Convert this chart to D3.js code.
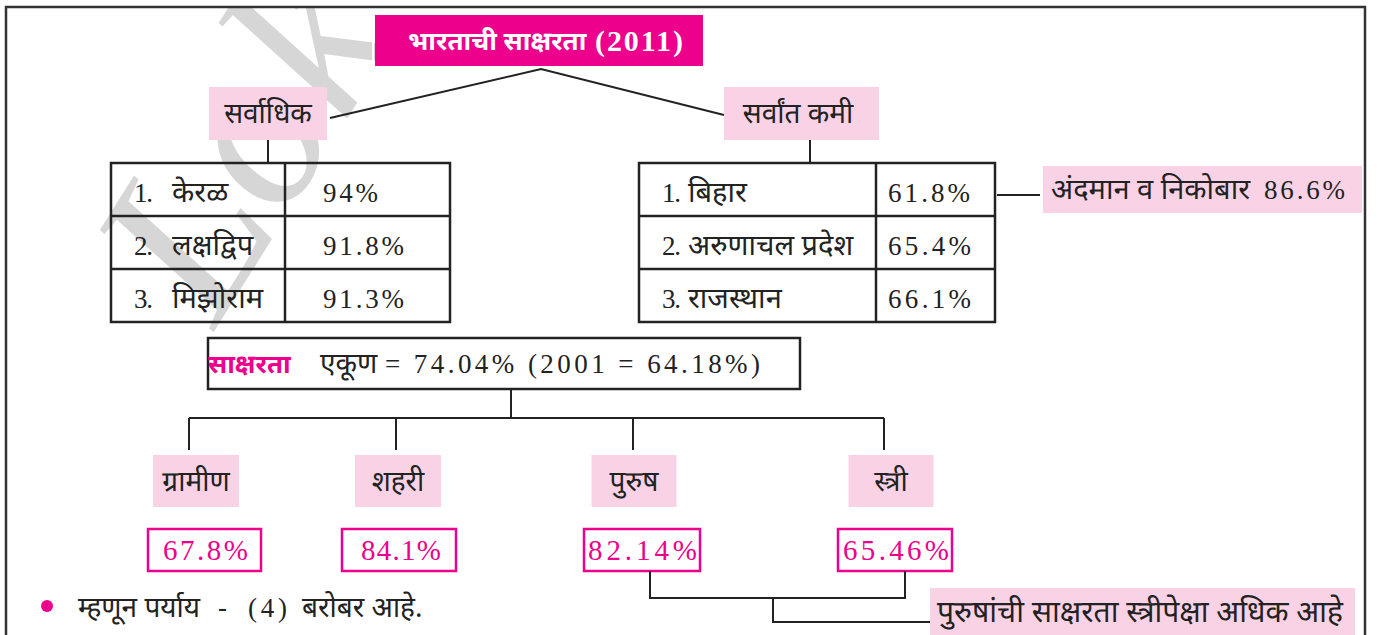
<!DOCTYPE html>
<html>
<head>
<meta charset="utf-8">
<script src="https://cdn.jsdelivr.net/npm/d3@7"></script>
<style>
  body { margin: 0; background: #fff; }
  svg text { font-family: "Liberation Serif", "DejaVu Serif", serif; }
</style>
</head>
<body>
<svg width="1377" height="635"></svg>
<script>
// --- data ---
const titleWord = "भारताची साक्षरता";
const titleYear = "(2011)";
const highLabel = "सर्वाधिक";
const lowLabel = "सर्वांत कमी";
const highStates = ["केरळ", "लक्षद्विप", "मिझोराम"];
const highValues = ["94%", "91.8%", "91.3%"];
const lowStates = ["बिहार", "अरुणाचल प्रदेश", "राजस्थान"];
const lowValues = ["61.8%", "65.4%", "66.1%"];
const unionName = "अंदमान व निकोबार";
const unionValue = "86.6%";
const totalLabel = "साक्षरता";
const totalWord = "एकूण";
const totalNums = "= 74.04% (2001 = 64.18%)";
const groups = ["ग्रामीण", "शहरी", "पुरुष", "स्त्री"];
const groupValues = ["67.8%", "84.1%", "82.14%", "65.46%"];
const conclusion = "पुरुषांची साक्षरता स्त्रीपेक्षा अधिक आहे";
const bulletParts = ["म्हणून पर्याय", "-", "(4)", "बरोबर आहे."];

const MAGENTA = "#ec008c", PINK = "#f9d3e5", INK = "#222";
const DEVA = "'Noto Sans Devanagari', 'Lohit Devanagari', 'Noto Sans', sans-serif";

const svg = d3.select("svg");

// watermark (faint, behind everything)
svg.append("defs").append("clipPath").attr("id", "frame")
  .append("rect").attr("x", 7).attr("y", 8).attr("width", 1357).attr("height", 630);
svg.append("g").attr("clip-path", "url(#frame)")
  .append("text")
  .attr("transform", "translate(215,330) rotate(-58)")
  .attr("font-size", 230)
  .attr("font-style", "italic")
  .attr("fill", "#d6d6d6")
  .text("Lok");

// outer frame (open at bottom)
svg.append("path")
  .attr("d", "M6,640 V7 H1365 V640")
  .attr("fill", "none").attr("stroke", "#333").attr("stroke-width", 2.5);

function line(pts, w = 2) {
  svg.append("path").attr("d", d3.line()(pts))
    .attr("fill", "none").attr("stroke", INK).attr("stroke-width", w);
}
function box(x, y, w, h, fill, stroke) {
  svg.append("rect").attr("x", x).attr("y", y).attr("width", w).attr("height", h)
    .attr("fill", fill).attr("stroke", stroke || "none").attr("stroke-width", stroke ? 2.5 : 0);
}
// deva text
function dtext(x, y, t, opt = {}) {
  return svg.append("text").attr("x", x).attr("y", y)
    .attr("text-anchor", opt.anchor || "start")
    .style("font-family", DEVA)
    .attr("font-size", opt.size || 27)
    .attr("font-weight", opt.weight || "normal")
    .attr("fill", opt.fill || INK)
    .text(t);
}
// serif numbers, stretched to the measured width
function ntext(x, y, t, len, opt = {}) {
  const el = svg.append("text").attr("x", x).attr("y", y)
    .attr("font-size", opt.size || 27)
    .attr("font-weight", opt.weight || "normal")
    .attr("fill", opt.fill || INK)
    .text(t);
  if (len) el.attr("textLength", len).attr("lengthAdjust", "spacing");
  return el;
}

// title
box(375, 15, 328, 51, MAGENTA);
svg.append("rect").attr("x", 373).attr("y", 13).attr("width", 332).attr("height", 55)
  .attr("fill", "none").attr("stroke", "#fff").attr("stroke-width", 2);
dtext(408, 50, titleWord, { size: 26, weight: "bold", fill: "#fff" });
ntext(595, 51, titleYear, 88, { size: 30, weight: "bold", fill: "#fff" });
line([[330, 118], [541, 69], [724, 115]]);

// header boxes
box(209, 87, 118, 53, PINK);
dtext(268, 123, highLabel, { anchor: "middle", size: 28 });
box(724, 87, 155, 53, PINK);
dtext(798, 123, lowLabel, { anchor: "middle", size: 28 });
line([[268, 140], [268, 163]]);
line([[810, 140], [810, 163]]);

// tables
const rowY = d3.scaleBand().domain(d3.range(3)).range([163, 322]);
function table(x0, xMid, x1, names, vals, nameX, valX, valLens) {
  svg.append("rect").attr("x", x0).attr("y", 163).attr("width", x1 - x0).attr("height", 159)
    .attr("fill", "none").attr("stroke", INK).attr("stroke-width", 2.5);
  line([[xMid, 163], [xMid, 322]], 2.5);
  d3.range(1, 3).forEach(i => line([[x0, rowY(i)], [x1, rowY(i)]], 2.5));
  names.forEach((n, i) => {
    const y = rowY(i) + rowY.bandwidth() / 2 + 12;
    ntext(x0 + 23, y, (i + 1) + ".", 19);
    dtext(nameX, y, n, { size: 29 });
  });
  vals.forEach((v, i) => ntext(valX, rowY(i) + rowY.bandwidth() / 2 + 12, v, valLens[i]));
}
table(111, 285, 450, highStates, highValues, 172, 323, [55, 81, 81]);
table(639, 876, 995, lowStates, lowValues, 688, 888, [82, 83, 83]);

line([[997, 195], [1040, 195]]);
box(1043, 166, 319, 47, PINK);
dtext(1051, 199, unionName, { size: 29 });
ntext(1264, 199, unionValue, 81);

// total
svg.append("rect").attr("x", 208).attr("y", 338).attr("width", 592).attr("height", 51)
  .attr("fill", "#fff").attr("stroke", INK).attr("stroke-width", 2.5);
dtext(208, 373, totalLabel, { weight: "bold", fill: MAGENTA, size: 26 });
dtext(320, 373, totalWord, { size: 28 });
ntext(385, 373, totalNums, 375);
line([[511, 389], [511, 418]]);

// four groups
const gx = d3.scaleOrdinal().domain(groups).range([189, 396, 633, 884]);
const boxW = d3.scaleOrdinal().domain(groups).range([86, 86, 85, 85]);
const boxC = d3.scaleOrdinal().domain(groups).range([196, 398, 634, 891]);
const valX = d3.scaleOrdinal().domain(groups).range([148, 342, 584, 838]);
const valW = d3.scaleOrdinal().domain(groups).range([113, 114, 116, 114]);
const txtX = d3.scaleOrdinal().domain(groups).range([163, 361, 588, 843]);
const txtW = d3.scaleOrdinal().domain(groups).range([85, 80, 109, 106]);
line([[189, 418], [884, 418]]);
groups.forEach((g, i) => {
  line([[gx(g), 418], [gx(g), 450]]);
  box(boxC(g) - boxW(g) / 2, 455, boxW(g), 52, PINK);
  dtext(boxC(g), 491, g, { anchor: "middle", size: 28 });
  svg.append("rect").attr("x", valX(g)).attr("y", 529).attr("width", valW(g)).attr("height", 42)
    .attr("fill", "#fff").attr("stroke", MAGENTA).attr("stroke-width", 2.5);
  ntext(txtX(g), 560, groupValues[i], txtW(g), { fill: MAGENTA, size: 29 });
});

// comparison
line([[650, 571], [650, 598], [905, 598], [905, 571]]);
line([[773, 598], [773, 622], [930, 622]]);
box(930, 588, 425, 50, PINK);
dtext(937, 622, conclusion, { size: 30 });

// bullet
svg.append("circle").attr("cx", 47).attr("cy", 606).attr("r", 6).attr("fill", MAGENTA);
dtext(78, 617, bulletParts[0], { size: 28 });
ntext(218, 616, bulletParts[1], 12);
ntext(248, 617, bulletParts[2], 39);
dtext(302, 617, bulletParts[3], { size: 28 });
</script>
</body>
</html>
